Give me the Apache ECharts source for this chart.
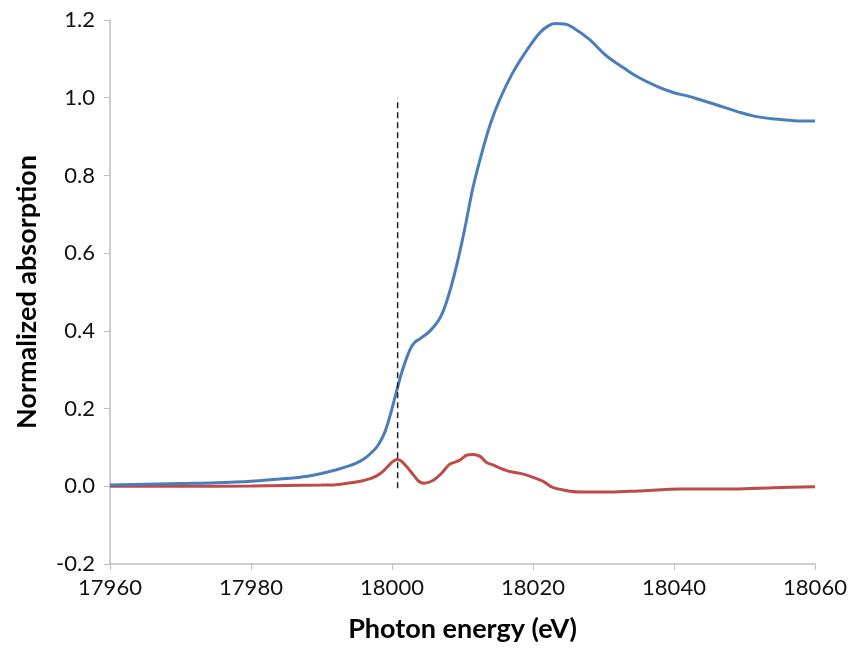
<!DOCTYPE html>
<html><head><meta charset="utf-8">
<script src="https://cdn.jsdelivr.net/npm/echarts@6/dist/echarts.min.js"></script>
<style>html,body{margin:0;padding:0;background:#fff}#c{width:852px;height:648px}</style>
</head><body><div id="c"></div>
<script>
const energyBlue = [17960,17970,17975,17980,17985,17988,17990,17992,17994,17995,17996,17997,17998,17999,18000,18000.8,18001.5,18002.5,18003.2,18004,18005.4,18006.8,18007.9,18009.2,18010.4,18011.5,18012.9,18014,18015.3,18017,18018.6,18020,18021,18022,18023.1,18024.5,18025.7,18028,18030.4,18033,18035,18037.5,18039.8,18042,18043.5,18046,18049.2,18051.5,18053.9,18057,18060];
const absorption = [0.003,0.007,0.009,0.013,0.020,0.026,0.033,0.042,0.053,0.060,0.070,0.085,0.105,0.140,0.200,0.255,0.300,0.350,0.370,0.380,0.400,0.433,0.484,0.571,0.670,0.770,0.868,0.935,0.996,1.060,1.108,1.145,1.168,1.183,1.191,1.190,1.180,1.150,1.108,1.075,1.052,1.030,1.014,1.004,0.996,0.982,0.963,0.952,0.946,0.941,0.940];
const energyRed = [17960,17970,17980,17985,17990,17992,17994.5,17996,17997.3,17998.5,17999.3,18000,18000.7,18001.3,18002.1,18003,18003.8,18004.5,18005.8,18007,18008.2,18009.5,18010.6,18011.5,18012.5,18013.4,18014.3,18015.3,18016.7,18018.5,18020,18021.5,18022.8,18025,18027.1,18030.9,18035,18040.9,18044,18048.4,18054,18060];
const derivative = [0.0,0.0,0.001,0.002,0.003,0.004,0.010,0.015,0.022,0.035,0.049,0.062,0.069,0.065,0.050,0.030,0.013,0.008,0.015,0.033,0.057,0.066,0.080,0.082,0.077,0.061,0.055,0.047,0.038,0.032,0.023,0.012,-0.003,-0.012,-0.015,-0.015,-0.012,-0.007,-0.007,-0.007,-0.004,-0.001];
const markerEnergy = [18000.8, 18000.8];
const markerValue = [-0.005, 1.0];
const xTitle = 'Photon energy (eV)';
const yTitle = 'Normalized absorption';

const zip = (a, b) => a.map((v, i) => [v, b[i]]);
const font = 'Lato, "Open Sans", sans-serif';
const chart = echarts.init(document.getElementById('c'));
chart.setOption({
  animation: false,
  grid: {left: 110, right: 37, top: 20, bottom: 81},
  xAxis: {
    type: 'value', min: 17960, max: 18060, interval: 20,
    name: xTitle, nameLocation: 'middle', nameGap: 52,
    nameTextStyle: {fontFamily: font, fontSize: 27, fontWeight: 'bold', color: '#000'},
    axisLine: {onZero: false, lineStyle: {color: '#bfbfbf', width: 1.5}},
    axisTick: {show: true, length: 6, lineStyle: {color: '#bfbfbf'}},
    axisLabel: {fontFamily: font, fontSize: 22, color: '#111', margin: 13, formatter: v => String(v)},
    splitLine: {show: false}
  },
  yAxis: {
    type: 'value', min: -0.2, max: 1.2, interval: 0.2,
    name: yTitle, nameLocation: 'middle', nameGap: 69,
    nameTextStyle: {fontFamily: font, fontSize: 27, fontWeight: 'bold', color: '#000'},
    axisLine: {show: true, lineStyle: {color: '#bfbfbf', width: 1.5}},
    axisTick: {show: true, length: 6, lineStyle: {color: '#bfbfbf'}},
    axisLabel: {fontFamily: font, fontSize: 22, color: '#111', margin: 15, formatter: v => v.toFixed(1)},
    splitLine: {show: false}
  },
  series: [
    {type: 'line', data: zip(energyBlue, absorption), smooth: 0.4, showSymbol: false,
     lineStyle: {color: '#4a7ebb', width: 3}, z: 3},
    {type: 'line', data: zip(energyRed, derivative), smooth: 0.3, showSymbol: false,
     lineStyle: {color: '#be4b48', width: 3}, z: 2},
    {type: 'line', data: zip(markerEnergy, markerValue), showSymbol: false,
     lineStyle: {color: '#222', width: 1.5, type: [6, 4]}, z: 4}
  ]
});
</script></body></html>
